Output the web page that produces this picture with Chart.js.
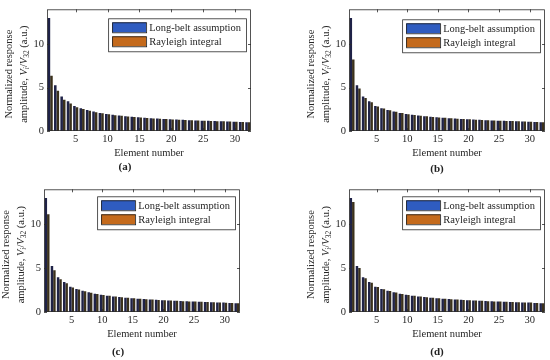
<!DOCTYPE html>
<html>
<head>
<meta charset="utf-8">
<script src="https://cdn.jsdelivr.net/npm/chart.js@4.4.0/dist/chart.umd.min.js"></script>
<style>
    html, body { margin: 0; padding: 0; background: #fff; }
    #wrap { position: relative; width: 550px; height: 360px; overflow: hidden; }
    #wrap canvas { position: absolute; }
</style>
</head>
<body>
<div id="wrap">
    <canvas id="chartA" width="275" height="180" style="left:0;top:0"></canvas>
    <canvas id="chartB" width="275" height="180" style="left:275px;top:0"></canvas>
    <canvas id="chartC" width="275" height="180" style="left:0;top:180px"></canvas>
    <canvas id="chartD" width="275" height="180" style="left:275px;top:180px"></canvas>
</div>
<script>
// Element numbers on the x axis
const elements = ['1', '2', '3', '4', '5', '6', '7', '8', '9', '10', '11', '12', '13', '14', '15', '16',
                  '17', '18', '19', '20', '21', '22', '23', '24', '25', '26', '27', '28', '29', '30', '31', '32'];

const seriesNames = ['Long-belt assumption', 'Rayleigh integral'];
const yTicks = [0, 5, 10];
const yMax = 14;

// Normalized amplitude V_i / V_32, same long-belt curve in every panel
const longBelt = [13.0, 5.25, 3.97, 3.42, 2.88, 2.63, 2.42, 2.24, 2.08, 1.96, 1.86, 1.78, 1.70, 1.64, 1.58, 1.52,
                  1.47, 1.43, 1.39, 1.35, 1.31, 1.28, 1.25, 1.22, 1.19, 1.17, 1.14, 1.12, 1.09, 1.07, 1.04, 1.00];

const rayleighA = [6.35, 4.62, 3.60, 3.15, 2.72, 2.52, 2.33, 2.17, 2.03, 1.92, 1.82, 1.74, 1.67, 1.61, 1.55, 1.50,
                   1.45, 1.41, 1.37, 1.33, 1.30, 1.27, 1.24, 1.21, 1.18, 1.16, 1.13, 1.11, 1.08, 1.06, 1.04, 1.00];
const rayleighB = [8.22, 4.88, 3.80, 3.30, 2.82, 2.58, 2.38, 2.21, 2.06, 1.94, 1.84, 1.76, 1.69, 1.62, 1.56, 1.51,
                   1.46, 1.42, 1.38, 1.34, 1.30, 1.27, 1.24, 1.21, 1.19, 1.16, 1.14, 1.11, 1.09, 1.06, 1.04, 1.00];
const rayleighC = [11.15, 4.75, 3.75, 3.28, 2.80, 2.57, 2.37, 2.20, 2.05, 1.94, 1.84, 1.76, 1.69, 1.62, 1.56, 1.51,
                   1.46, 1.42, 1.38, 1.34, 1.30, 1.27, 1.24, 1.21, 1.19, 1.16, 1.14, 1.11, 1.09, 1.06, 1.04, 1.00];
const rayleighD = [12.55, 5.02, 3.85, 3.35, 2.84, 2.60, 2.39, 2.22, 2.06, 1.95, 1.85, 1.77, 1.69, 1.63, 1.57, 1.51,
                   1.46, 1.42, 1.38, 1.34, 1.31, 1.27, 1.24, 1.21, 1.19, 1.16, 1.14, 1.11, 1.09, 1.07, 1.04, 1.00];

const FONT = "'Liberation Serif', 'Times New Roman', serif";
const INK = '#262626';

Chart.defaults.font.family = FONT;
Chart.defaults.color = INK;

// Draws the MATLAB style box, inward ticks, axis titles, legend and panel letter
const panelDecor = {
    id: 'panelDecor',
    afterDatasetsDraw(chart, args, opts) {
        const ctx = chart.ctx;
        const a = chart.chartArea;
        const xs = chart.scales.x;
        const ys = chart.scales.y;
        ctx.save();

        // axes box
        ctx.strokeStyle = '#2b2b2b';
        ctx.lineWidth = 0.8;
        ctx.strokeRect(a.left + 0.5, a.top + 0.5, a.right - a.left - 1, a.bottom - a.top - 1);

        // inward tick marks on all four sides
        ctx.beginPath();
        elements.forEach((lab, i) => {
            if (Number(lab) % 5 !== 0) return;
            const px = Math.round(xs.getPixelForValue(i)) + 0.5;
            ctx.moveTo(px, a.bottom); ctx.lineTo(px, a.bottom - 3);
            ctx.moveTo(px, a.top); ctx.lineTo(px, a.top + 3);
        });
        yTicks.forEach(v => {
            const py = Math.round(ys.getPixelForValue(v)) + 0.5;
            ctx.moveTo(a.left, py); ctx.lineTo(a.left + 3, py);
            ctx.moveTo(a.right, py); ctx.lineTo(a.right - 3, py);
        });
        ctx.stroke();

        // x title
        ctx.fillStyle = INK;
        ctx.font = '10.5px ' + FONT;
        ctx.textAlign = 'center';
        ctx.textBaseline = 'middle';
        ctx.fillText('Element number', (a.left + a.right) / 2, a.bottom + 22);

        // y title, two lines with subscripts
        const cy = (a.top + a.bottom) / 2 + 4;
        ctx.save();
        ctx.translate(a.left - 38, cy);
        ctx.rotate(-Math.PI / 2);
        ctx.fillText('Normalized response', 0, 0);
        ctx.restore();

        const parts = [
            { t: 'amplitude, ', f: '10.5px ' + FONT, dy: 0 },
            { t: 'V', f: 'italic 10.5px ' + FONT, dy: 0 },
            { t: 'i', f: 'italic 7.5px ' + FONT, dy: 3 },
            { t: '/', f: '10.5px ' + FONT, dy: 0 },
            { t: 'V', f: 'italic 10.5px ' + FONT, dy: 0 },
            { t: '32', f: '7.5px ' + FONT, dy: 3 },
            { t: ' (a.u.)', f: '10.5px ' + FONT, dy: 0 }
        ];
        let total = 0;
        parts.forEach(p => { ctx.font = p.f; p.w = ctx.measureText(p.t).width; total += p.w; });
        ctx.save();
        ctx.translate(a.left - 23, cy);
        ctx.rotate(-Math.PI / 2);
        ctx.textAlign = 'left';
        let x = -total / 2;
        parts.forEach(p => {
            ctx.font = p.f;
            ctx.fillText(p.t, x, p.dy);
            x += p.w;
        });
        ctx.restore();

        // legend inside the axes, top right
        ctx.font = '10.5px ' + FONT;
        const sets = chart.data.datasets;
        let textW = 0;
        sets.forEach(d => { textW = Math.max(textW, ctx.measureText(d.label).width); });
        const boxW = 4 + 34 + 3 + textW + 5;
        const boxH = 33;
        const bx = a.right - 5 - boxW;
        const by = a.top + opts.legendTop;
        ctx.fillStyle = '#ffffff';
        ctx.fillRect(bx, by, boxW, boxH);
        ctx.strokeStyle = '#2b2b2b';
        ctx.lineWidth = 0.8;
        ctx.strokeRect(bx + 0.5, by + 0.5, boxW, boxH);
        sets.forEach((d, i) => {
            const sy = by + 4 + i * 14;
            ctx.fillStyle = d.swatch;
            ctx.fillRect(bx + 4, sy, 34, 10);
            ctx.strokeStyle = '#1a1a1a';
            ctx.strokeRect(bx + 4.5, sy + 0.5, 34, 10);
            ctx.fillStyle = INK;
            ctx.textAlign = 'left';
            ctx.fillText(d.label, bx + 41, sy + 5.5);
        });

        // panel letter
        ctx.font = 'bold 11px ' + FONT;
        ctx.textAlign = 'center';
        ctx.fillStyle = '#222';
        ctx.fillText(opts.label, opts.labelX, opts.labelY);
        ctx.restore();
    }
};

const panels = [
    { id: 'chartA', label: '(a)', rayleigh: rayleighA, pad: { left: 33, right: 24, top: 4, bottom: 35 }, labelX: 125, labelY: 167, legendTop: 9 },
    { id: 'chartB', label: '(b)', rayleigh: rayleighB, pad: { left: 60, right: 5, top: 4, bottom: 35 }, labelX: 162, labelY: 169, legendTop: 10 },
    { id: 'chartC', label: '(c)', rayleigh: rayleighC, pad: { left: 30, right: 35, top: 7, bottom: 34 }, labelX: 118, labelY: 172, legendTop: 7 },
    { id: 'chartD', label: '(d)', rayleigh: rayleighD, pad: { left: 60, right: 5, top: 7, bottom: 34 }, labelX: 162, labelY: 172, legendTop: 7 }
];

function buildPanel(p) {
    const ctx = document.getElementById(p.id).getContext('2d');
    new Chart(ctx, {
        type: 'bar',
        data: {
            labels: elements,
            datasets: [{
                label: seriesNames[0],
                data: longBelt,
                backgroundColor: '#1f2247',
                borderWidth: 0,
                swatch: '#2f5cc0',
                categoryPercentage: 0.8,
                barPercentage: 1.0
            }, {
                label: seriesNames[1],
                data: p.rayleigh,
                backgroundColor: '#3b311b',
                borderWidth: 0,
                swatch: '#c46a1c',
                categoryPercentage: 0.8,
                barPercentage: 1.0
            }]
        },
        options: {
            responsive: false,
            animation: false,
            devicePixelRatio: 1,
            layout: { padding: p.pad },
            plugins: {
                legend: { display: false },
                tooltip: { enabled: false },
                panelDecor: { label: p.label, labelX: p.labelX, labelY: p.labelY, legendTop: p.legendTop }
            },
            scales: {
                x: {
                    type: 'category',
                    offset: true,
                    grid: { display: false, drawTicks: false },
                    border: { display: false },
                    ticks: {
                        autoSkip: false,
                        maxRotation: 0,
                        padding: 2,
                        font: { size: 10.5 },
                        color: INK,
                        callback: function(value) {
                            const lab = this.getLabelForValue(value);
                            return Number(lab) % 5 === 0 ? lab : '';
                        }
                    },
                    afterFit: s => { s.height = 14; }
                },
                y: {
                    min: 0,
                    max: yMax,
                    grid: { display: false, drawTicks: false },
                    border: { display: false },
                    ticks: {
                        stepSize: 5,
                        includeBounds: false,
                        padding: 3,
                        font: { size: 10.5 },
                        color: INK,
                        callback: v => (yTicks.includes(v) ? String(v) : '')
                    },
                    afterFit: s => { s.width = 14; }
                }
            }
        },
        plugins: [panelDecor]
    });
}

panels.forEach(buildPanel);
</script>
</body>
</html>
